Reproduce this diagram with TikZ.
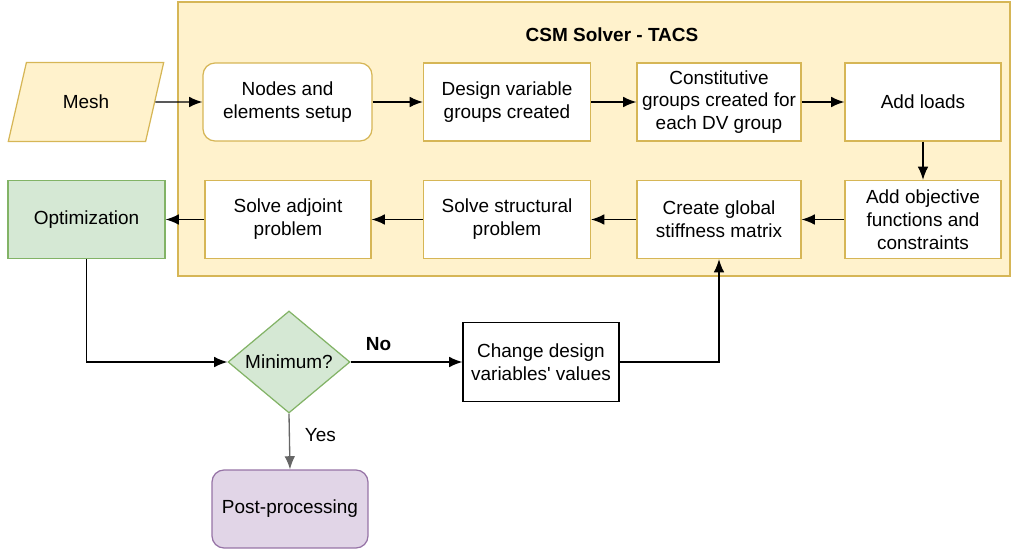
\documentclass[tikz,border=0pt]{standalone}
\usepackage{fontspec}
\setmainfont{Liberation Sans}
\usetikzlibrary{shapes.geometric,arrows.meta}
\tikzset{>={Latex[length=7.5pt,width=6pt]}}
\definecolor{tacsfill}{HTML}{FFF2CC}
\definecolor{tacsline}{HTML}{D6B656}
\definecolor{optfill}{HTML}{D5E8D4}
\definecolor{optline}{HTML}{82B366}
\definecolor{postfill}{HTML}{E1D5E7}
\definecolor{postline}{HTML}{9673A6}
\tikzset{
    stage/.style={draw=tacsline,fill=white,align=center,
        minimum height=1.56cm,inner sep=1pt,line width=0.7pt},
    flow/.style={->,line width=0.75pt},
}

\begin{document}
\begin{tikzpicture}[x=0.02cm,y=-0.02cm,font=\fontsize{10.8}{13}\selectfont]
    \useasboundingbox (0,0) rectangle (1012,551);
    % the TACS solver block
    \draw[fill=tacsfill,draw=tacsline,line width=0.7pt] (178,2) rectangle (1010,276);
    \node[font=\fontsize{10.8}{13}\selectfont\bfseries] (title) at (612,35) {CSM Solver - TACS};

    \node[trapezium,trapezium left angle=71,trapezium right angle=109,
        trapezium stretches=true,draw=tacsline,fill=tacsfill,line width=0.7pt,
        minimum width=3.12cm,minimum height=1.58cm] (mesh) at (86,102) {Mesh};

    % first row
    \node[stage,rounded corners=0.24cm,minimum width=3.38cm] (setup) at (287.5,102)
        {Nodes and\\elements setup};
    \node[stage,minimum width=3.34cm] (dvgroups) at (507,102)
        {Design variable\\groups created};
    \node[stage,minimum width=3.28cm] (constit) at (719,102)
        {Constitutive\\groups created for\\each DV group};
    \node[stage,minimum width=3.12cm] (loads) at (923,102) {Add loads};

    % second row
    \node[stage,minimum width=3.12cm] (objective) at (923,219.5)
        {Add objective\\functions and\\constraints};
    \node[stage,minimum width=3.28cm] (stiffness) at (719,219.5)
        {Create global\\stiffness matrix};
    \node[stage,minimum width=3.34cm] (structural) at (507,219.5)
        {Solve structural\\problem};
    \node[stage,minimum width=3.32cm] (adjoint) at (288,219.5)
        {Solve adjoint\\problem};
    \node[stage,draw=optline,fill=optfill,minimum width=3.14cm] (optim) at (86.5,219.5)
        {Optimization};

    % optimisation loop
    \node[diamond,draw=optline,fill=optfill,line width=0.7pt,inner sep=0pt,
        minimum width=2.44cm,minimum height=2.04cm] (minimum) at (289,362) {Minimum?};
    \node[stage,draw=black,minimum width=3.12cm,minimum height=1.58cm] (change) at (541,362)
        {Change design\\variables\textquotesingle{} values};
    \node[stage,draw=postline,fill=postfill,rounded corners=0.24cm,
        minimum width=3.12cm] (post) at (290,509) {Post-processing};

    \draw[flow] (mesh) -- (setup);
    \draw[flow] (setup) -- (dvgroups);
    \draw[flow] (dvgroups) -- (constit);
    \draw[flow] (constit) -- (loads);
    \draw[flow] (loads) -- (objective);
    \draw[flow] (objective) -- (stiffness);
    \draw[flow] (stiffness) -- (structural);
    \draw[flow] (structural) -- (adjoint);
    \draw[flow] (adjoint) -- (optim);
    \draw[flow] (optim.south) |- (minimum.west);
    \draw[flow] (minimum.east) -- node[pos=0.25,yshift=0.36cm,font=\fontsize{10.8}{13}\selectfont\bfseries] {No} (change.west);
    \draw[flow] (change.east) -| (stiffness.south);
    \draw[flow,draw=black!60] (minimum.south) -- node[pos=0.39,xshift=0.62cm] {Yes} (post.north);
\end{tikzpicture}
\end{document}
